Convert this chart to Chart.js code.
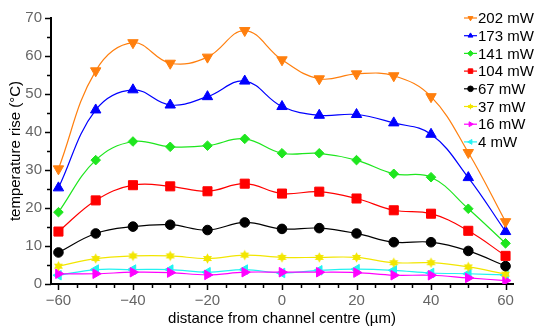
<!DOCTYPE html>
<html>
<head>
<meta charset="utf-8">
<script src="https://cdn.jsdelivr.net/npm/chart.js@4.4.0/dist/chart.umd.min.js"></script>
<style>
  html, body { margin: 0; padding: 0; background: #fff; }
  #wrap { width: 537px; height: 329px; }
</style>
</head>
<body>
<div id="wrap"><canvas id="chart"></canvas></div>
<script>
// Data
const distances = [-60, -50, -40, -30, -20, -10, 0, 10, 20, 30, 40, 50, 60];
const seriesLabels = ['202 mW', '173 mW', '141 mW', '104 mW', '67 mW', '37 mW', '16 mW', '4 mW'];
const rise202 = [30.3, 56.1, 63.5, 58.1, 59.7, 66.7, 59.0, 54.0, 55.3, 54.8, 49.3, 34.6, 16.4];
const rise173 = [25.3, 45.8, 51.1, 47.1, 49.3, 53.4, 46.7, 44.4, 44.6, 42.4, 39.4, 28.0, 13.8];
const rise141 = [18.9, 32.6, 37.5, 36.1, 36.4, 38.2, 34.4, 34.4, 32.6, 29.0, 28.1, 19.8, 10.7];
const rise104 = [13.8, 22.0, 26.0, 25.7, 24.4, 26.4, 23.8, 24.3, 22.5, 19.4, 18.5, 14.0, 7.4];
const rise67 = [8.3, 13.3, 15.1, 15.6, 14.2, 16.2, 14.5, 14.7, 13.3, 11.0, 11.0, 8.7, 4.7];
const rise37 = [4.7, 6.7, 7.4, 7.4, 6.7, 7.6, 7.0, 7.0, 7.0, 5.6, 5.6, 4.5, 2.6];
const rise16 = [2.7, 2.7, 3.1, 3.0, 2.4, 3.1, 3.1, 3.1, 3.0, 2.3, 2.3, 1.6, 0.9];
const rise4 = [2.3, 3.8, 3.8, 3.8, 3.1, 3.8, 2.9, 3.6, 3.9, 3.6, 2.9, 2.7, 2.4];
const xTicks = [-60, -40, -20, 0, 20, 40, 60];
const yTicks = [0, 10, 20, 30, 40, 50, 60, 70];

// Marker helpers
function makeStar(r, color) {
  const c = document.createElement('canvas');
  const s = Math.ceil(r * 2 + 2);
  c.width = s; c.height = s;
  const ctx = c.getContext('2d');
  ctx.fillStyle = color;
  ctx.beginPath();
  for (let i = 0; i < 12; i++) {
    const a = -Math.PI / 2 + i * Math.PI / 6;
    const rr = i % 2 === 0 ? r : r * 0.55;
    const px = s / 2 + Math.cos(a) * rr;
    const py = s / 2 + Math.sin(a) * rr;
    if (i === 0) ctx.moveTo(px, py); else ctx.lineTo(px, py);
  }
  ctx.closePath();
  ctx.fill();
  return c;
}

const yellow = '#f2e600';
const starBig = makeStar(5.2, yellow);
const starSmall = makeStar(3.2, yellow);

const styles = [
  { color: '#ff7f0e', point: 'triangle', rot: 180, r: 6 },
  { color: '#0000ff', point: 'triangle', rot: 0, r: 6 },
  { color: '#1ee61e', point: 'rectRot', rot: 0, r: 4.8 },
  { color: '#ff0000', point: 'rect', rot: 0, r: 6.4 },
  { color: '#000000', point: 'circle', rot: 0, r: 4.8 },
  { color: yellow, point: starBig, rot: 0, r: 5, legendPoint: starSmall },
  { color: '#ff00ff', point: 'triangle', rot: 90, r: 5.5 },
  { color: '#22f2f2', point: 'triangle', rot: -90, r: 5.5 }
];

const values = [rise202, rise173, rise141, rise104, rise67, rise37, rise16, rise4];

const datasets = values.map((vals, i) => ({
  label: seriesLabels[i],
  data: distances.map((d, j) => ({ x: d, y: vals[j] })),
  borderColor: styles[i].color,
  backgroundColor: styles[i].color,
  pointBackgroundColor: styles[i].color,
  pointBorderColor: styles[i].color,
  pointStyle: styles[i].point,
  pointRotation: styles[i].rot,
  pointRadius: styles[i].r,
  pointBorderWidth: 1,
  borderWidth: 1.2,
  tension: 0.4,
  fill: false
}));

// Tick marks drawn outward, major + minor
const tickMarks = {
  id: 'tickMarks',
  afterDraw(chart) {
    const ctx = chart.ctx;
    const xs = chart.scales.x, ys = chart.scales.y;
    const area = chart.chartArea;
    ctx.save();
    ctx.strokeStyle = '#000';
    ctx.lineWidth = 1.5;
    for (let v = -60; v <= 60; v += 5) {
      const px = Math.round(xs.getPixelForValue(v)) + 0.5;
      const len = v % 20 === 0 ? 6 : 4;
      ctx.beginPath();
      ctx.moveTo(px, area.bottom);
      ctx.lineTo(px, area.bottom + len);
      ctx.stroke();
    }
    for (let v = 0; v <= 70; v += 5) {
      const py = Math.round(ys.getPixelForValue(v)) + 0.5;
      const len = v % 10 === 0 ? 6 : 4;
      ctx.beginPath();
      ctx.moveTo(area.left, py);
      ctx.lineTo(area.left - len, py);
      ctx.stroke();
    }
    ctx.restore();
  }
};

// Legend inside the plot, top right
const insideLegend = {
  id: 'insideLegend',
  afterDraw(chart) {
    const ctx = chart.ctx;
    ctx.save();
    ctx.font = '15px "Liberation Sans", Arial, sans-serif';
    ctx.textBaseline = 'middle';
    ctx.textAlign = 'left';
    chart.data.datasets.forEach((ds, i) => {
      const st = styles[i];
      const y = 18 + i * 17.7;
      ctx.strokeStyle = st.color;
      ctx.lineWidth = 1.2;
      ctx.beginPath();
      ctx.moveTo(464, y);
      ctx.lineTo(477, y);
      ctx.stroke();
      ctx.fillStyle = st.color;
      ctx.strokeStyle = st.color;
      ctx.lineWidth = 1;
      Chart.helpers.drawPoint(ctx, {
        pointStyle: st.legendPoint || st.point,
        rotation: st.rot,
        radius: st.point === 'rect' ? 3.2 : 2.8,
        borderWidth: 1
      }, 470.5, y);
      ctx.fillStyle = '#000';
      ctx.fillText(ds.label, 478, y + 1);
    });
    ctx.restore();
  }
};

const fontFamily = '"Liberation Sans", Arial, sans-serif';

new Chart(document.getElementById('chart'), {
  type: 'line',
  data: { datasets },
  options: {
    responsive: true,
    maintainAspectRatio: false,
    animation: false,
    layout: { padding: { top: 18, right: 24, left: 0, bottom: 0 } },
    plugins: {
      legend: { display: false },
      tooltip: { enabled: false }
    },
    scales: {
      x: {
        type: 'linear',
        min: -62,
        max: 62,
        afterBuildTicks: (scale) => { scale.ticks = xTicks.map(v => ({ value: v })); },
        afterFit: (scale) => { scale.height = 45; },
        grid: { display: false },
        border: { display: true, color: '#000', width: 2 },
        ticks: {
          color: '#666',
          font: { family: fontFamily, size: 15 },
          padding: 0,
          maxRotation: 0,
          callback: (v) => String(v).replace('-', '\u2212')
        },
        title: {
          display: true,
          text: 'distance from channel centre (\u00b5m)',
          color: '#000',
          font: { family: fontFamily, size: 15 },
          padding: { top: 0, bottom: 1 }
        }
      },
      y: {
        min: 0,
        max: 70,
        afterBuildTicks: (scale) => { scale.ticks = yTicks.map(v => ({ value: v })); },
        afterFit: (scale) => { scale.width = 51; },
        grid: { display: false },
        border: { display: true, color: '#000', width: 2 },
        ticks: {
          color: '#666',
          font: { family: fontFamily, size: 15 },
          padding: 1
        },
        title: {
          display: true,
          text: 'temperature rise (\u00b0C)',
          color: '#000',
          font: { family: fontFamily, size: 15 },
          padding: { top: 7, bottom: 0 }
        }
      }
    }
  },
  plugins: [tickMarks, insideLegend]
});
</script>
</body>
</html>
